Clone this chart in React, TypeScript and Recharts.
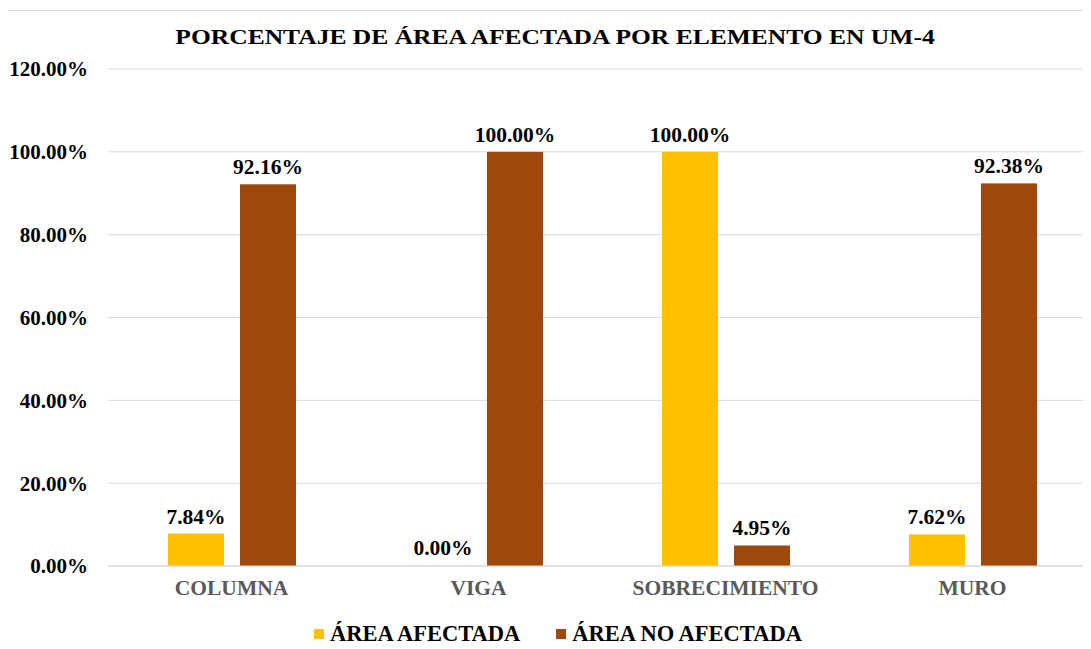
import { BarChart, Bar, XAxis, YAxis, CartesianGrid, LabelList, Legend } from "recharts";

const categories = ["COLUMNA", "VIGA", "SOBRECIMIENTO", "MURO"];
const afectada = [7.84, 0.0, 100.0, 7.62];
const noAfectada = [92.16, 100.0, 4.95, 92.38];
const yTicks = [0, 20, 40, 60, 80, 100, 120];

const series = [
  { key: "afectada", name: "ÁREA AFECTADA", color: "#FFC000" },
  { key: "noAfectada", name: "ÁREA NO AFECTADA", color: "#9E480E" },
];

const data = categories.map((name, i) => ({
  name,
  afectada: afectada[i],
  noAfectada: noAfectada[i],
}));

const FONT = "Liberation Serif";
const pct = (v: number) => `${Number(v).toFixed(2)}%`;

const LegendBox = () => (
  <div style={{ display: "flex", justifyContent: "center", gap: 36, fontFamily: FONT, fontWeight: "bold", fontSize: 22.5, lineHeight: "24px", color: "#000", paddingLeft: 20 }}>
    {series.map((s) => (
      <span key={s.key} style={{ display: "flex", alignItems: "center" }}>
        <span style={{ width: 10, height: 10, background: s.color, display: "inline-block", marginRight: 6 }} />
        {s.name}
      </span>
    ))}
  </div>
);

const ValueLabel = (props: any) => {
  const { x, y, width, value } = props;
  return (
    <text x={Number(x) + Number(width) / 2} y={Number(y) - 10} textAnchor="middle" fill="#000" fontFamily={FONT} fontWeight="bold" fontSize={21.5}>
      {pct(value)}
    </text>
  );
};

// zero values still get a (hidden) 1px bar so that their label is drawn
const BarShape = (props: any) => {
  const { x, y, width, height, fill, value } = props;
  const v = Array.isArray(value) ? value[1] - value[0] : value;
  if (!v) return null;
  return <rect x={x} y={y} width={width} height={height} fill={fill} />;
};

export default function App() {
  return (
    <div style={{ margin: -8, position: "relative", width: 1091, height: 649, background: "#fff", overflow: "hidden" }}>
      {/* spreadsheet strip above the chart */}
      <div style={{ position: "absolute", left: 0, top: 0, width: 1091, height: 5, borderBottom: "2px solid #111" }} />
      <div style={{ position: "absolute", left: 0, top: 0, width: 3, height: 6, background: "#1a1aff" }} />
      <div style={{ position: "absolute", left: 447, top: 0, width: 1, height: 5, background: "#ccc" }} />
      <div style={{ position: "absolute", left: 742, top: 0, width: 1, height: 5, background: "#ccc" }} />
      <div style={{ position: "absolute", left: 7, top: 10, width: 1100, height: 700, borderLeft: "1px solid #d0d0d0", borderTop: "1px solid #d9d9d9" }} />
      <div style={{ position: "absolute", left: 0, top: 24, width: 1110, textAlign: "center", fontFamily: FONT, fontWeight: "bold", fontSize: 22, color: "#000", transform: "scaleX(1.16)", transformOrigin: "555px 0" }}>
        PORCENTAJE DE ÁREA AFECTADA POR ELEMENTO EN UM-4
      </div>
      <div style={{ position: "absolute", left: 0, top: 0 }}>
        <BarChart
          width={1096}
          height={649}
          data={data}
          margin={{ top: 69, right: 0, left: 0, bottom: 0 }}
          barSize={56}
          barGap={16}
        >
          <CartesianGrid stroke="#d9d9d9" vertical={false} />
          <XAxis
            dataKey="name"
            axisLine={{ stroke: "#d9d9d9" }}
            tickLine={false}
            height={55}
            tickMargin={8}
            tick={{ fill: "#595959", fontFamily: FONT, fontWeight: "bold", fontSize: 21.5 }}
          />
          <YAxis
            width={108}
            domain={[0, 120]}
            ticks={yTicks}
            axisLine={false}
            tickLine={false}
            tickMargin={14}
            tickFormatter={pct}
            tick={{ fill: "#000", fontFamily: FONT, fontWeight: "bold", fontSize: 21 }}
          />
          <Legend verticalAlign="bottom" height={28} content={<LegendBox />} wrapperStyle={{ bottom: -1 }} />
          {series.map((s) => (
            <Bar key={s.key} dataKey={s.key} name={s.name} fill={s.color} minPointSize={1} shape={<BarShape />} isAnimationActive={false}>
              <LabelList dataKey={s.key} content={<ValueLabel />} />
            </Bar>
          ))}
        </BarChart>
      </div>
    </div>
  );
}
